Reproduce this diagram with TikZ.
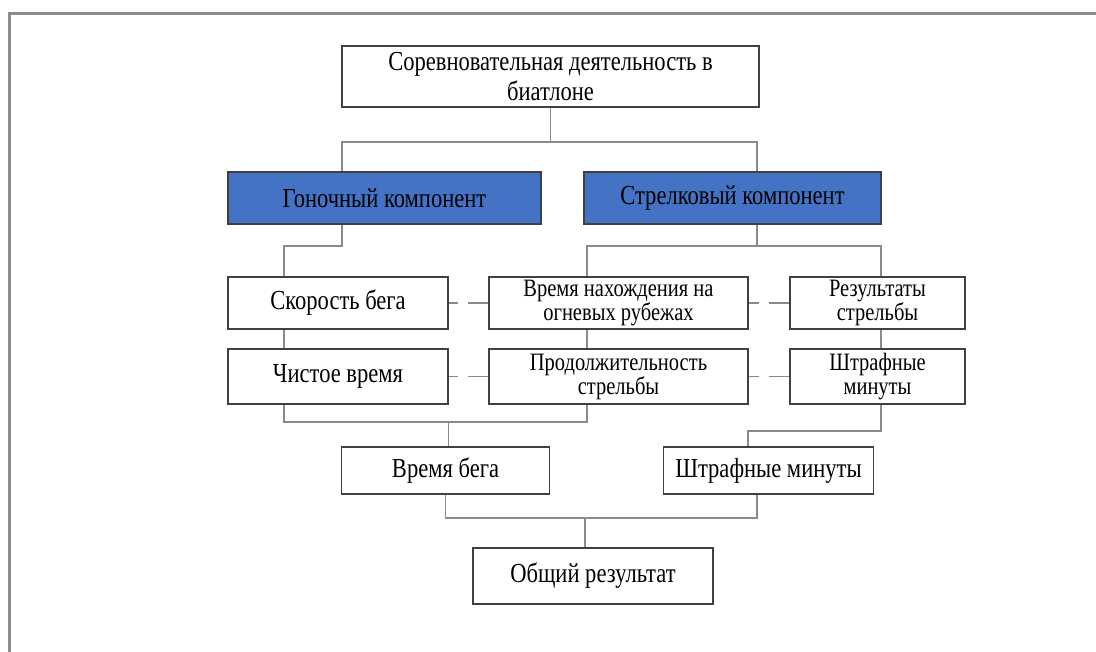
\documentclass[tikz,border=0pt]{standalone}
\usepackage{fontspec}
\setmainfont{Liberation Serif}[FakeStretch=0.82]
\definecolor{compblue}{HTML}{4472C4}
\definecolor{framegray}{HTML}{8C8C8C}
\definecolor{linegray}{HTML}{8A8A8A}
\definecolor{boxgray}{HTML}{404040}
\tikzset{
  box/.style={draw=boxgray,line width=1.8pt,fill=white,minimum height=52pt,align=center,inner sep=0pt,font=\fontsize{27.5}{30}\selectfont},
  smallbox/.style={box,font=\fontsize{25}{24}\selectfont},
  bluebox/.style={box,fill=compblue},
  link/.style={draw=linegray,line width=1.3pt},
  dlink/.style={link,dash pattern=on 20pt off 10pt},
}
\begin{document}
\begin{tikzpicture}[x=1pt,y=-1pt]
\useasboundingbox (0,0) rectangle (1096,652);
\draw[framegray,line width=3pt](1096,13.5)--(9.5,13.5)--(9.5,652);
%
\node[box,minimum width=417pt,minimum height=61pt](top) at (550.5,76.5){Соревновательная деятельность в\\биатлоне};
\node[bluebox,minimum width=313pt](gon) at (384.5,198){Гоночный компонент};
\node[bluebox,minimum width=297pt](strel) at (732.5,198){Стрелковый компонент};
%
\node[box,minimum width=220pt](spd) at (338,303){Скорость бега};
\node[smallbox,minimum width=259pt](fire) at (618.5,303){Время нахождения на\\огневых рубежах};
\node[smallbox,minimum width=175pt](res) at (877.5,303){Результаты\\стрельбы};
\node[box,minimum width=220pt,minimum height=55pt](clean) at (338,376.5){Чистое время};
\node[smallbox,minimum width=259pt,minimum height=55pt](dur) at (618.5,376.5){Продолжительность\\стрельбы};
\node[smallbox,minimum width=175pt,minimum height=55pt](pen) at (877.5,376.5){Штрафные\\минуты};
%
\node[box,minimum width=208pt,minimum height=47pt](run) at (445.5,470.5){Время бега};
\node[box,minimum width=210pt,minimum height=47pt](pen2) at (768.5,470.5){Штрафные минуты};
\node[box,minimum width=240pt,minimum height=56pt](total) at (593,576){Общий результат};
%
\draw[link](top.south)--++(0,34)coordinate(j1);
\draw[link]([xshift=-42.5pt]gon.north)|-(j1)-|([xshift=24.5pt]strel.north);
\draw[link]([xshift=-42.5pt]gon.south)--++(0,21)-|([xshift=-54pt]spd.north);
\draw[link]([xshift=24.5pt]strel.south)--++(0,21)coordinate(j2);
\draw[link]([xshift=-31.5pt]fire.north)|-(j2)-|([xshift=3.5pt]res.north);
\foreach \a/\b/\s in {spd/clean/-54,fire/dur/-31.5,res/pen/3.5}{\draw[link]([xshift=\s pt]\a.south)--([xshift=\s pt]\b.north);}
\foreach \a/\b in {fire/spd,res/fire,dur/clean,pen/dur}{\draw[dlink](\a.west)--(\b.east);}
\draw[link]([xshift=-54pt]clean.south)--++(0,17)coordinate(j3)-|([xshift=-31.5pt]dur.south);
\draw[link]([xshift=3pt]run.north)--([xshift=3pt]run.north|-j3);
\draw[link]([xshift=3.5pt]pen.south)--++(0,26)coordinate(j4)-|([xshift=-20.5pt]pen2.north);
\draw[link](run.south)--++(0,23)coordinate(j5)-|([xshift=-11.5pt]pen2.south);
\draw[link]([xshift=-8pt]total.north)--([xshift=-8pt]total.north|-j5);
\end{tikzpicture}
\end{document}
